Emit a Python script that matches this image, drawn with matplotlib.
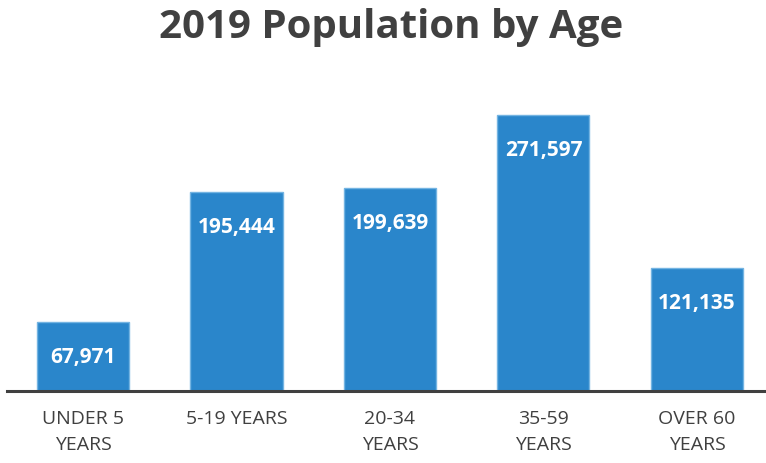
import matplotlib.pyplot as plt

ages = ['UNDER 5\nYEARS', '5-19 YEARS', '20-34\nYEARS', '35-59\nYEARS', 'OVER 60\nYEARS']
population = [67971, 195444, 199639, 271597, 121135]

plt.rcParams['font.family'] = ['Open Sans', 'DejaVu Sans']

fig = plt.figure(figsize=(7.66, 4.63), dpi=100)
ax = fig.add_axes([7 / 766, 72 / 463, 759 / 766, 311 / 463])

x = range(len(ages))
bars = ax.bar(x, population, width=0.6, color='#2A86CB', edgecolor='#74B4E2', linewidth=1.0)

for rect, val in zip(bars, population):
    ax.annotate(f'{val:,}', (rect.get_x() + rect.get_width() / 2, rect.get_height()),
                xytext=(0, -25.5), textcoords='offset points', ha='center', va='center',
                color='white', fontsize=15, fontweight='bold')

ax.set_xlim(-0.495, 4.45)
ax.set_ylim(0, 306000)
ax.set_xticks(list(x))
ax.set_xticklabels(ages, fontsize=14, color='#404040', linespacing=1.55)
ax.tick_params(axis='x', length=0, pad=14)
ax.set_yticks([])
for s in ['top', 'right', 'left']:
    ax.spines[s].set_visible(False)
ax.spines['bottom'].set_color('#404040')
ax.spines['bottom'].set_linewidth(2.2)

fig.text(0.51, 0.94, '2019 Population by Age', ha='center', va='center',
         fontsize=29, fontweight='bold', color='#404040')

fig.savefig('out.png', dpi=100)
